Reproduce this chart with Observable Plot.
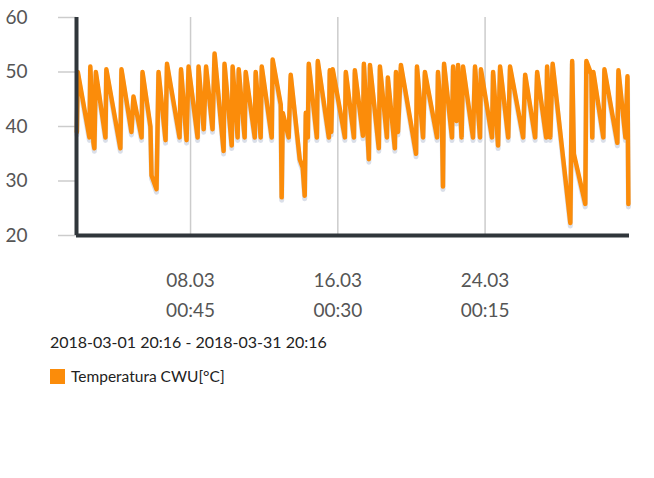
<!DOCTYPE html>
<html><head><meta charset="utf-8">
<script src="https://cdn.jsdelivr.net/npm/d3@7"></script>
<script src="https://cdn.jsdelivr.net/npm/@observablehq/plot@0.6"></script>
<style>
body{margin:0;background:#fff;font-family:Lato,sans-serif;width:654px;height:478px;position:relative;overflow:hidden}
#chart{position:absolute;left:0;top:0}
#range{position:absolute;left:50px;top:333px;font-size:16px;color:#222;line-height:18px;white-space:nowrap}
#legend{position:absolute;left:50px;top:368px;font-size:15.5px;color:#222;display:flex;align-items:center;line-height:16px}
.sw{display:inline-block;width:15px;height:15px;background:#fb8c0a;margin-right:6px}
</style></head><body>
<div id="chart"></div>
<div id="range"></div>
<div id="legend"><span class="sw"></span><span id="lt"></span></div>
<script>
const rangeStart = "2018-03-01T20:16:00Z";
const rangeEnd = "2018-03-31T20:16:00Z";
const rangeLabel = "2018-03-01 20:16 - 2018-03-31 20:16";
const seriesName = "Temperatura CWU[°C]";
// days since range start
const dayOffsets = [0.02,0.07,0.70,0.75,0.92,0.97,1.05,1.57,1.62,2.38,2.44,2.98,3.09,3.53,3.58,4.01,4.07,4.34,4.45,4.83,4.91,5.59,5.67,5.97,6.08,6.57,6.62,6.90,7.03,7.38,7.49,7.98,8.03,8.42,8.47,8.74,8.80,9.12,9.18,9.67,9.72,9.99,10.05,10.59,10.64,11.08,11.13,11.19,11.51,11.62,12.11,12.27,12.38,12.44,12.55,12.60,13.04,13.09,13.69,13.74,13.82,13.90,14.56,14.61,15.05,15.10,15.54,15.59,15.86,15.92,16.40,16.46,16.84,16.89,17.27,17.33,17.44,17.60,18.42,18.47,18.80,18.90,19.56,19.61,19.83,19.88,19.94,20.37,20.43,20.62,20.70,20.89,20.97,21.51,21.62,21.89,21.94,22.54,22.60,22.87,22.98,23.42,23.52,24.23,24.34,24.88,24.99,25.48,25.53,25.70,25.83,26.79,26.89,26.98,27.60,27.66,27.93,27.98,28.04,28.58,28.64,29.34,29.40,29.78,29.89,29.94];
const temps = [39,50,38,51,37,36,50,38,50.5,36,50.5,39,45.5,38,50,40,31,28.5,50,37.5,51.5,38,50.5,37.5,51,38,51,39.5,51,39.5,53.4,35.5,51.5,36.5,51,38,50.5,38,50,38,50,38,51,38,52.3,44,27,42.5,38,49.5,34,32.5,27.3,42.5,38,51.5,38,52,38,50.3,39,50.5,38,50,38,50.3,38.3,51.5,34,51.3,36,51,38,49,36,50,39,51.3,35,51,38,50,38,50,40,29,51.5,38,51,41,51.3,38,51,38,51,38,50.5,38,50,36.5,51,38,51,38,49.5,38,50,38,51,38,51.5,22.3,52,35,25.8,52,49.6,38,50,38,50.5,37,50.3,38,49.2,25.8];
const yTicks = [20,30,40,50,60];
const xTickTimes = ["2018-03-08T00:45:00Z","2018-03-16T00:30:00Z","2018-03-24T00:15:00Z"];
const xTickDates = ["08.03","16.03","24.03"];
const xTickHours = ["00:45","00:30","00:15"];

const t0 = new Date(rangeStart);
const data = dayOffsets.map((d,i)=>({t:new Date(+t0 + d*864e5), v:temps[i]}));
const ticks = xTickTimes.map(s=>new Date(s));
const idx = d => ticks.findIndex(t=>+t===+d);
const orange = "#fb8c0a";
const dark = "#30363b";

const chart = Plot.plot({
  width:654, height:325, marginLeft:76, marginRight:25, marginTop:17, marginBottom:90,
  style:{fontFamily:"Lato, sans-serif", background:"white", overflow:"visible"},
  x:{type:"utc", domain:[t0, new Date(rangeEnd)]},
  y:{domain:[20,60]},
  marks:[
    Plot.gridX(ticks,{stroke:"#cccccc", strokeOpacity:1, strokeWidth:1.5}),
    Plot.axisY(yTicks,{tickSize:18, stroke:"#cccccc", strokeWidth:1.5, tickPadding:31, fontSize:19, fill:"#555", label:null}),
    Plot.axisX(ticks,{tickSize:0, tickPadding:38, fontSize:19, fill:"#555", label:null, tickFormat:d=>xTickDates[idx(d)]}),
    Plot.axisX(ticks,{tickSize:0, tickPadding:68, fontSize:19, fill:"#555", label:null, tickFormat:d=>xTickHours[idx(d)]}),
    Plot.line(data,{x:"t", y:"v", stroke:"#aeb9cf", strokeOpacity:0.45, strokeWidth:5, dy:3, strokeLinejoin:"round"}),
    Plot.line(data,{x:"t", y:"v", stroke:orange, strokeWidth:4.5, strokeLinejoin:"round"}),
    Plot.ruleX([t0],{stroke:dark, strokeWidth:4}),
    Plot.ruleY([20],{stroke:dark, strokeWidth:4})
  ]
});
document.getElementById("chart").append(chart);
document.getElementById("range").textContent = rangeLabel;
document.getElementById("lt").textContent = seriesName;
</script>
</body></html>
